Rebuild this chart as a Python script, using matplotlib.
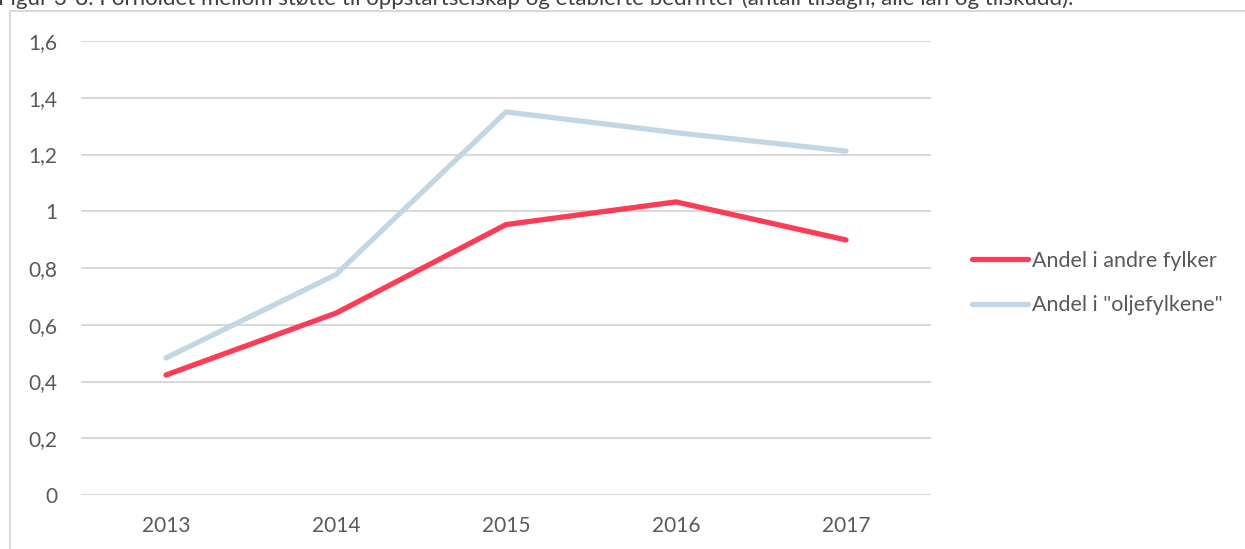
import matplotlib.pyplot as plt
from matplotlib.patches import Rectangle

years = ["2013", "2014", "2015", "2016", "2017"]
andre_fylker = [0.423, 0.641, 0.953, 1.033, 0.899]
oljefylkene = [0.483, 0.777, 1.350, 1.277, 1.212]
yticks = [0, 0.2, 0.4, 0.6, 0.8, 1.0, 1.2, 1.4, 1.6]
ytick_labels = ["0", "0,2", "0,4", "0,6", "0,8", "1", "1,2", "1,4", "1,6"]

title = ("Figur 3-8: Forholdet mellom støtte til oppstartselskap og etablerte "
         "bedrifter (antall tilsagn, alle lån og tilskudd).")

plt.rcParams['font.family'] = ['Lato', 'DejaVu Sans']

W, H = 1245, 549
fig = plt.figure(figsize=(W / 100, H / 100), dpi=100)

# outer chart border (runs off the right and bottom edge)
fig.patches.append(Rectangle((10 / W, -0.05), 1.2, (H - 11) / H + 0.05,
                             transform=fig.transFigure, fill=False,
                             edgecolor="#d9d9d9", linewidth=1.5))

# title, clipped at the top like in the original
fig.text(-2 / W, 1 + 1 / H, title, fontsize=16, color="#404040",
         ha="left", va="center")

ax = fig.add_axes([81 / W, (H - 495) / H, 850 / W, 454 / H])
x = range(len(years))
ax.plot(x, andre_fylker, color="#ff3b55", linewidth=3.8,
        solid_capstyle="round", label="Andel i andre fylker", clip_on=False)
ax.plot(x, oljefylkene, color="#c2d7e3", linewidth=3.8,
        solid_capstyle="round", label='Andel i "oljefylkene"', clip_on=False)

ax.set_xlim(-0.5, len(years) - 0.5)
ax.set_ylim(0, 1.6)
ax.set_xticks(list(x))
ax.set_xticklabels(years)
ax.set_yticks(yticks)
ax.set_yticklabels(ytick_labels)
ax.tick_params(length=0, labelsize=15, labelcolor="#595959")
ax.tick_params(axis="x", pad=15)
ax.tick_params(axis="y", pad=17)
ax.grid(axis="y", color="#d9d9d9", linewidth=1.5)
ax.set_axisbelow(True)
for s in ax.spines.values():
    s.set_visible(False)

fig.legend(loc="center left", bbox_to_anchor=(953 / W, 1 - 283 / H),
           frameon=False, fontsize=15.5, labelcolor="#595959",
           handlelength=2.6, handletextpad=0.15, labelspacing=1.15)

fig.savefig("out.png", dpi=100)
